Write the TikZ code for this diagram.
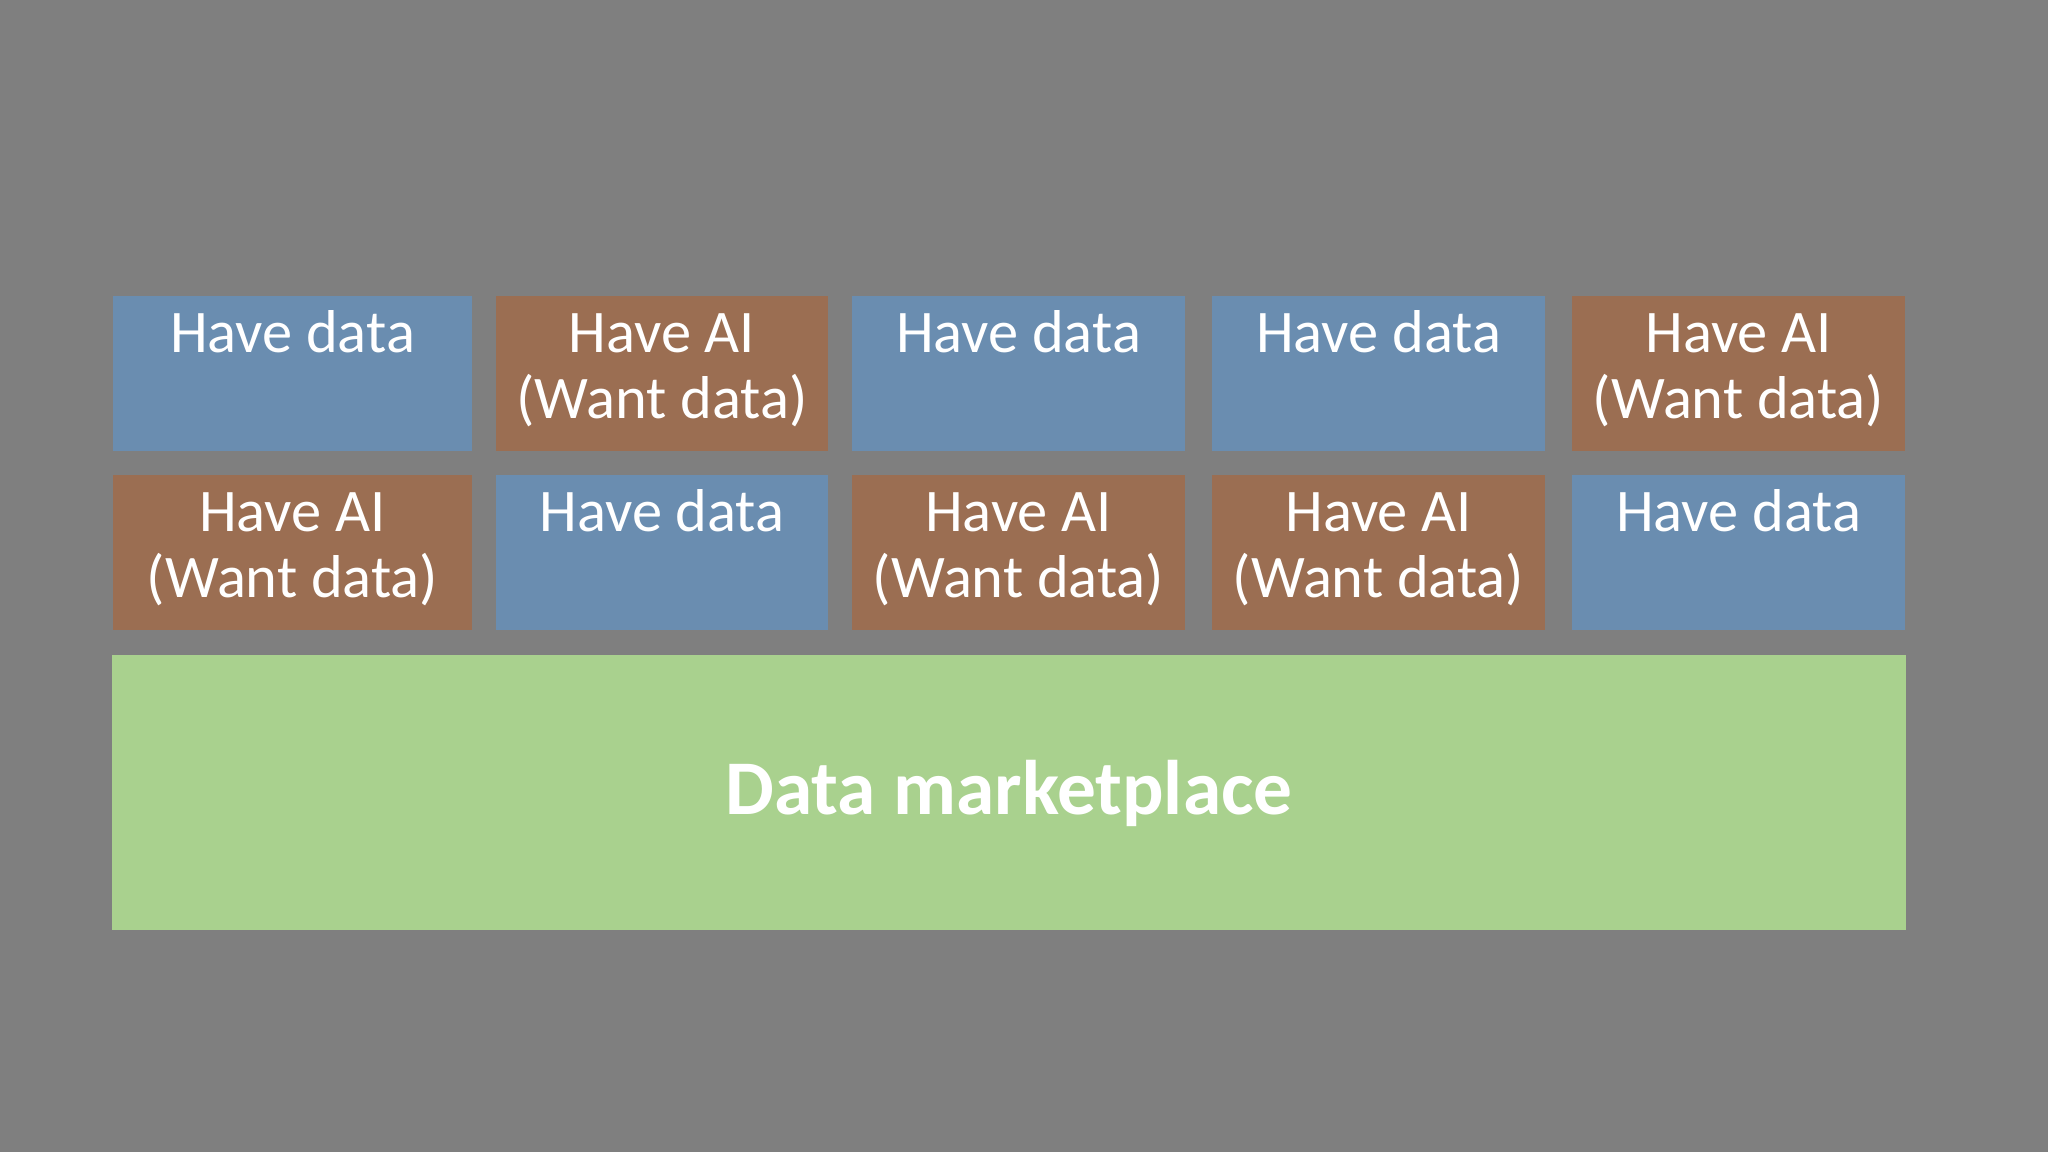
\documentclass[tikz,border=0pt]{standalone}
\usepackage{fontspec}
\setmainfont{Carlito}
\definecolor{bggray}{HTML}{7F7F7F}
\definecolor{havedata}{HTML}{6A8DB0}
\definecolor{haveai}{HTML}{9B6E52}
\definecolor{market}{HTML}{A9D18E}
\begin{document}
\begin{tikzpicture}[x=0.01cm, y=0.01cm,
        box/.style={minimum height=1.55cm, inner sep=0pt, outer sep=0pt},
        dbox/.style={box, fill=havedata},
        abox/.style={box, fill=haveai},
        lbl/.style={white, font=\fontsize{17.2}{18.5}\selectfont, align=center, anchor=base, inner sep=0pt}]

        % --- 背景 ---
        \fill[bggray] (0,0) rectangle (2048,1152);

        % --- 上の2段のボックス ---
        % 最後の行のベースラインを上端から \dy だけ下げる
        \foreach \nm/\xa/\xb/\yc/\kind/\dy/\txt in {
            d1/113/472/778.5/dbox/0.57/{Have data},
            a1/496/828/778.5/abox/1.22/{Have AI\\(Want data)},
            d2/852/1185/778.5/dbox/0.57/{Have data},
            d3/1212/1545/778.5/dbox/0.57/{Have data},
            a2/1572/1905/778.5/abox/1.22/{Have AI\\(Want data)},
            a3/113/472/599.5/abox/1.22/{Have AI\\(Want data)},
            d4/496/828/599.5/dbox/0.57/{Have data},
            a4/852/1185/599.5/abox/1.22/{Have AI\\(Want data)},
            a5/1212/1545/599.5/abox/1.22/{Have AI\\(Want data)},
            d5/1572/1905/599.5/dbox/0.57/{Have data}} {
            \node[\kind, minimum width={(\xb-\xa)*0.01cm}] (\nm) at ({(\xa+\xb)/2}, \yc) {};
            \node[lbl] (\nm-t) at ([yshift=-\dy cm]\nm.north) {\txt};
        }

        % --- データマーケットプレイス ---
        \node[fill=market, minimum width=17.92cm, minimum height=2.75cm, inner sep=0pt] (mkt) at (1009, 359.5) {};
        \node[white, font=\fontsize{22}{26}\bfseries, anchor=base, inner sep=0pt] (mkt-t) at ([yshift=-0.225cm]mkt.center) {Data marketplace};

\end{tikzpicture}
\end{document}
